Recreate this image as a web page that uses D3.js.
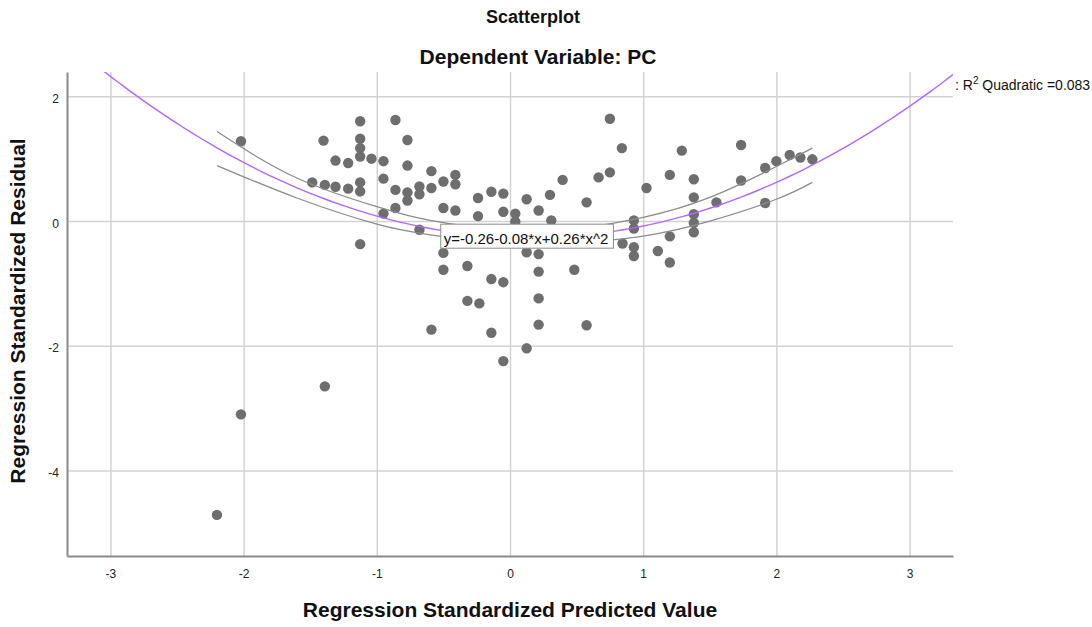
<!DOCTYPE html>
<html lang="en">
<head>
<meta charset="utf-8">
<title>Scatterplot</title>
<script src="https://d3js.org/d3.v7.min.js"></script>
<style>
  body { margin: 0; background: #fff; }
  text { font-family: "Liberation Sans", Arial, sans-serif; }
</style>
</head>
<body>
<div id="chart"></div>
<script>
// standardized predicted value (x) and standardized residual (y)
var predicted = [
  -2.02, -1.40, -1.125, -1.125, -1.125, -1.125, -1.31, -1.215, -1.04, -0.95,
  -0.95, -1.485, -1.39, -1.31, -1.215, -1.125, -1.125, -0.95, -1.125, -0.86,
  -0.77, -0.77, -0.59, -0.41, -0.41, -0.50, -0.59, -0.68, -0.68, -0.77,
  -0.77, -0.86, -0.86, -0.68, -0.50, -0.41, -0.24, -0.14, -0.05, -0.24,
  -0.05, 0.04, 0.04, 0.125, 0.215, 0.30, -0.50, -0.50, -0.32, -0.14,
  -0.05, -0.32, -0.23, -0.59, -0.14, -0.05, 0.125, 0.125, 0.215, 0.215,
  0.215, 0.215, -1.39, 0.75, 0.84, 0.395, 0.665, 0.75, 0.575, 0.31,
  0.93, 0.93, 0.93, 0.93, 0.845, 1.025, 1.20, 1.29, 1.38, 1.38,
  1.38, 1.38, 1.38, 1.20, 1.11, 1.20, 1.55, 1.735, 1.735, 1.916,
  2.00, 2.10, 2.18, 2.27, 1.916, 0.483, 0.575, -2.02, -2.20
];
var residual = [
  1.28, 1.29, 1.60, 1.32, 1.17, 1.035, 0.97, 0.93, 1.00, 0.96,
  0.68, 0.62, 0.58, 0.55, 0.52, 0.62, 0.475, 0.12, -0.37, 1.62,
  1.30, 0.89, 0.80, 0.74, 0.59, 0.635, 0.53, 0.555, 0.43, 0.46,
  0.33, 0.50, 0.21, -0.14, 0.21, 0.17, 0.37, 0.47, 0.44, 0.08,
  0.15, 0.12, -0.01, 0.35, 0.17, 0.42, -0.51, -0.78, -0.72, -0.93,
  -0.98, -1.28, -1.32, -1.74, -1.79, -2.245, -2.04, -0.50, -0.53, -0.81,
  -1.24, -1.66, -2.65, 1.64, 1.17, 0.66, 0.70, 0.78, 0.30, 0.01,
  0.01, -0.12, -0.42, -0.56, -0.36, 0.53, 0.74, 1.13, 0.67, 0.38,
  0.11, -0.03, -0.18, -0.245, -0.48, -0.665, 0.30, 1.22, 0.65, 0.85,
  0.96, 1.06, 1.02, 0.99, 0.29, -0.78, -1.67, -3.10, -4.71
];

// quadratic fit y = b0 + b1*x + b2*x^2 (from the chart label)
var fitCoef = [-0.26, -0.08, 0.26];
var rSquared = 0.083;

// confidence band of the fit
var bandX     = [-2.2, -1.6, -1.0, -0.6, 0, 0.5, 1.0, 1.5, 2.0, 2.27];
var bandUpper = [1.435, 0.69, 0.23, 0.01, -0.15, -0.12, 0.06, 0.38, 0.875, 1.17];
var bandLower = [0.89, 0.37, -0.05, -0.22, -0.37, -0.35, -0.24, 0.0, 0.35, 0.62];

var xTicks = [-3, -2, -1, 0, 1, 2, 3];
var yTicks = [2, 0, -2, -4];

var W = 1092, H = 627;
var plotL = 67, plotT = 72, plotR = 953, plotB = 556;
var fontFam = "'Liberation Sans', Arial, sans-serif";

var svg = d3.select("#chart").append("svg")
    .attr("width", W)
    .attr("height", H);

var x = d3.scaleLinear().domain([-3.326, 3.326]).range([plotL, plotR]);
var y = d3.scaleLinear().domain([-5.37, 2.39]).range([plotB, plotT]);

svg.append("clipPath").attr("id", "plot-clip")
  .append("rect")
    .attr("x", plotL).attr("y", plotT)
    .attr("width", plotR - plotL).attr("height", plotB - plotT);

// grid lines
svg.append("g")
    .attr("transform", "translate(0," + plotB + ")")
    .call(d3.axisBottom(x).tickValues(xTicks).tickSize(-(plotB - plotT)).tickFormat(""))
    .call(g => g.select(".domain").remove())
    .call(g => g.selectAll("line").attr("stroke", "#d2d2d2").attr("stroke-width", 1.5));

svg.append("g")
    .attr("transform", "translate(" + plotL + ",0)")
    .call(d3.axisLeft(y).tickValues(yTicks).tickSize(-(plotR - plotL)).tickFormat(""))
    .call(g => g.select(".domain").remove())
    .call(g => g.selectAll("line").attr("stroke", "#d2d2d2").attr("stroke-width", 1.5));

// axes
svg.append("g")
    .attr("transform", "translate(0," + plotB + ")")
    .call(d3.axisBottom(x).tickValues(xTicks).tickSize(0).tickSizeOuter(0).tickPadding(13)
      .tickFormat(d => String(d)))
    .call(g => g.select(".domain").attr("stroke", "#8a8a8a").attr("stroke-width", 2))
    .call(g => g.selectAll("text").attr("font-size", 12).attr("fill", "#222")
      .style("font-family", fontFam));

svg.append("g")
    .attr("transform", "translate(" + plotL + ",0)")
    .call(d3.axisLeft(y).tickValues(yTicks).tickSize(0).tickSizeOuter(0).tickPadding(8)
      .tickFormat(d => String(d)))
    .call(g => g.select(".domain").attr("stroke", "#8a8a8a").attr("stroke-width", 2))
    .call(g => g.selectAll("text").attr("font-size", 12).attr("fill", "#222").attr("dy", "0.5em")
      .style("font-family", fontFam));

// points
var pts = predicted.map((d, i) => ({x: d, y: residual[i]}));
svg.append("g").selectAll("circle")
    .data(pts)
    .join("circle")
    .attr("cx", d => x(d.x))
    .attr("cy", d => y(d.y))
    .attr("r", 5.2)
    .attr("fill", "#6e6e6e");

// confidence band lines
var bandLine = d3.line().curve(d3.curveNatural).x(d => x(d[0])).y(d => y(d[1]));
[bandUpper, bandLower].forEach(function(vals) {
  svg.append("path")
      .datum(bandX.map((bx, i) => [bx, vals[i]]))
      .attr("d", bandLine)
      .attr("fill", "none")
      .attr("stroke", "#8c8c8c")
      .attr("stroke-width", 1.3);
});

// fitted quadratic
var fitX = d3.range(-3.4, 3.41, 0.05);
var quad = v => fitCoef[0] + fitCoef[1] * v + fitCoef[2] * v * v;
svg.append("path")
    .datum(fitX.map(v => [v, quad(v)]))
    .attr("clip-path", "url(#plot-clip)")
    .attr("d", d3.line().x(d => x(d[0])).y(d => y(d[1])))
    .attr("fill", "none")
    .attr("stroke", "#b366ff")
    .attr("stroke-width", 1.4);

// equation label
var eqG = svg.append("g");
var eqText = eqG.append("text")
    .attr("x", x(-0.52) + 3)
    .attr("y", y(-0.05) + 20)
    .attr("font-size", 15)
    .attr("fill", "#111")
    .text("y=" + fitCoef[0].toFixed(2) + fitCoef[1].toFixed(2) + "*x+" + fitCoef[2].toFixed(2) + "*x^2");
var bb = eqText.node().getBBox();
eqG.insert("rect", "text")
    .attr("x", bb.x - 3)
    .attr("y", y(-0.05))
    .attr("width", bb.width + 8)
    .attr("height", 24)
    .attr("fill", "#fff")
    .attr("stroke", "#8c8c8c")
    .attr("stroke-width", 1);

// R-squared legend
var r2 = svg.append("text")
    .attr("x", 955)
    .attr("y", 90)
    .attr("font-size", 14)
    .attr("fill", "#111");
r2.append("tspan").text(": R");
r2.append("tspan").attr("font-size", 10).attr("dy", -6).text("2");
r2.append("tspan").attr("dy", 6).text(" Quadratic =" + rSquared.toFixed(3));

// titles
svg.append("text")
    .attr("x", 533).attr("y", 23)
    .attr("text-anchor", "middle")
    .attr("font-size", 18).attr("font-weight", "bold").attr("fill", "#111")
    .text("Scatterplot");

svg.append("text")
    .attr("x", 538).attr("y", 64)
    .attr("text-anchor", "middle")
    .attr("font-size", 21).attr("font-weight", "bold").attr("fill", "#111")
    .text("Dependent Variable: PC");

// axis titles
svg.append("text")
    .attr("x", 510).attr("y", 617)
    .attr("text-anchor", "middle")
    .attr("font-size", 21).attr("font-weight", "bold").attr("fill", "#111")
    .text("Regression Standardized Predicted Value");

svg.append("text")
    .attr("transform", "translate(25,311) rotate(-90)")
    .attr("text-anchor", "middle")
    .attr("font-size", 21).attr("font-weight", "bold").attr("fill", "#111")
    .text("Regression Standardized Residual");
</script>
</body>
</html>
